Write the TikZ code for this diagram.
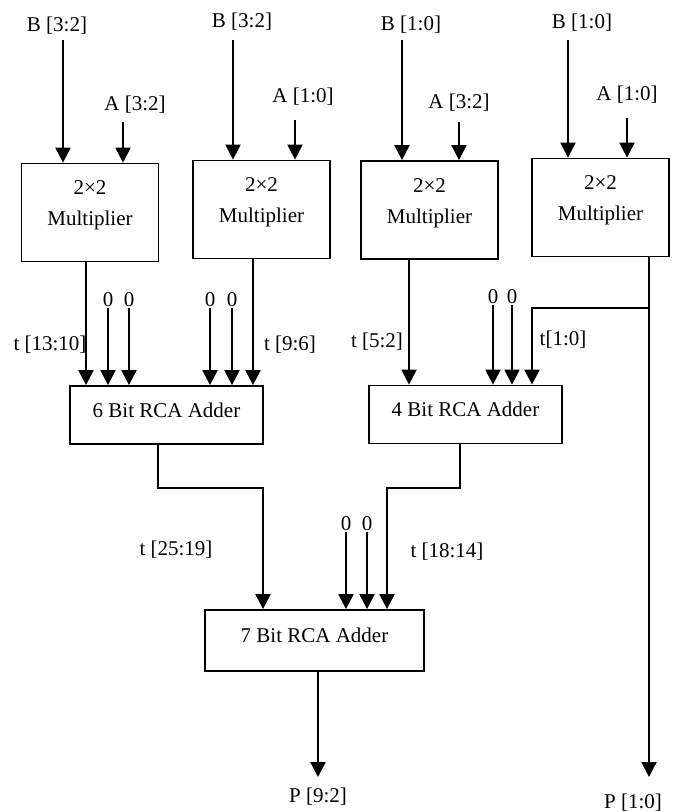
\documentclass[tikz,border=0pt]{standalone}
\usepackage{fontspec}
\setmainfont{Liberation Serif}
\usetikzlibrary{arrows.meta,positioning}

\begin{document}
\begin{tikzpicture}[x=1pt, y=-1pt, >={Triangle[width=15pt,length=15pt]},
  font=\fontsize{21pt}{31pt}\selectfont,
  box/.style={draw, line width=1.8pt, inner sep=0pt, align=center},
  sig/.style={line width=2.2pt, ->},
  wire/.style={line width=2.2pt}]
  \useasboundingbox (0,0) rectangle (675,812);
  % multipliers
  \foreach \n/\cx/\cy in {1/90/212.5, 2/261.5/209.5, 3/429.5/210, 4/600.5/207.5}{
    \node[box, minimum width=137pt, minimum height=98pt, text depth=18pt] (M\n) at (\cx,\cy) {2×2\\Multiplier};
  }
  % adders
  \node[box, minimum width=193pt, minimum height=58pt, text depth=10pt] (A6) at (166.5,415) {6 Bit RCA Adder};
  \node[box, minimum width=193pt, minimum height=58pt, text depth=10pt] (A4) at (465.5,414.5) {4 Bit RCA Adder};
  \node[box, minimum width=219pt, minimum height=61pt, text depth=10pt] (A7) at (314.5,640.5) {7 Bit RCA Adder};
  % inputs A and B
  \foreach \n/\m/\t/\lx/\ly/\x/\y in {
      B1/M1/B [3:2]/57/26/63/40, A1/M1/A [3:2]/135/105/123/122,
      B2/M2/B [3:2]/242/22/233/40, A2/M2/A [1:0]/303/97/295/120,
      B3/M3/B [1:0]/411/25/402/40, A3/M3/A [3:2]/459/103/459/122,
      B4/M4/B [1:0]/582/23/568/40, A4/M4/A [1:0]/627/95/627/118}{
    \node (l\n) at (\lx,\ly) {\t};
    \coordinate (s\n) at (\x,\y);
    \draw[sig] (s\n) -- (s\n |- \m.north);
  }
  % constant zeros
  \foreach \x/\y/\a in {108/308/A6, 129/308/A6, 210/308/A6, 232/308/A6,
      493/305/A4, 512/305/A4, 346/532/A7, 367/532/A7}{
    \node[above, inner sep=1pt] (z\x) at (\x,\y) {0};
    \draw[sig] (z\x.south) -- (z\x.south |- \a.north);
  }
  % partial products
  \draw[sig] (M1.south -| 86,0) -- (A6.north -| 86,0);
  \draw[sig] (M2.south -| 253,0) -- (A6.north -| 253,0);
  \draw[sig] (M3.south -| 409,0) -- (A4.north -| 409,0);
  \coordinate (br) at (649,308);
  \coordinate (p10) at (649,777);
  \draw[sig] (M4.south -| br) -- (p10);
  \draw[sig] (br) -| (A4.north -| 532,0);
  % sums
  \coordinate (j6) at (158,488);
  \coordinate (j4) at (460,488);
  \draw[sig] (A6.south -| j6) -- (j6) -| (A7.north -| 263,0);
  \draw[sig] (A4.south -| j4) -- (j4) -| (A7.north -| 387,0);
  \coordinate (p92) at (318,777);
  \draw[sig] (A7.south -| p92) -- (p92);
  % wire labels
  \node (t1) at (50,345) {t [13:10]};
  \node (t2) at (290,345) {t [9:6]};
  \node (t3) at (377,342) {t [5:2]};
  \node (t4) at (563,340) {t[1:0]};
  \node (t5) at (176,550) {t [25:19]};
  \node (t6) at (447,552) {t [18:14]};
  \node (o1) at (318,797) {P [9:2]};
  \node (o2) at (633,803) {P [1:0]};
\end{tikzpicture}
\end{document}
